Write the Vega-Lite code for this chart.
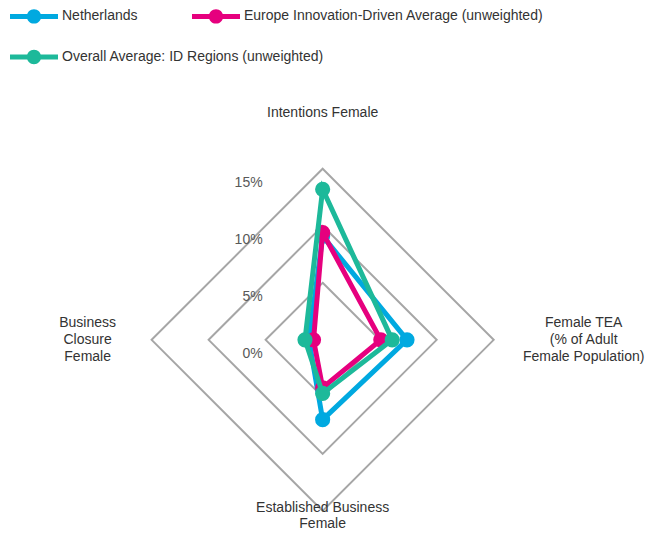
{
  "$schema": "https://vega.github.io/schema/vega-lite/v6.json",
  "width": 651,
  "height": 536,
  "padding": 0,
  "autosize": {"type": "none"},
  "config": {
    "view": {"stroke": null},
    "font": "Liberation Sans",
    "legend": {
      "title": null,
      "orient": "none",
      "direction": "horizontal",
      "legendX": 10,
      "columnPadding": 54,
      "padding": 0,
      "offset": 0,
      "symbolType": "M-1,-0.105L1,-0.105L1,0.105L-1,0.105Z M0.3,0A0.3,0.3 0 1 1 -0.3,0A0.3,0.3 0 1 1 0.3,0Z",
      "symbolSize": 2304,
      "symbolStrokeWidth": 0,
      "labelFontSize": 14,
      "labelColor": "#333333",
      "labelOffset": 4,
      "labelLimit": 0
    }
  },
  "datasets": {
    "scores": [
      {"series": "Netherlands", "indicator": "Intentions Female", "value": 9.1},
      {"series": "Netherlands", "indicator": "Female TEA", "value": 7.4},
      {"series": "Netherlands", "indicator": "Established Business Female", "value": 7.0},
      {"series": "Netherlands", "indicator": "Business Closure Female", "value": 1.2},
      {"series": "Europe Innovation-Driven Average (unweighted)", "indicator": "Intentions Female", "value": 9.4},
      {"series": "Europe Innovation-Driven Average (unweighted)", "indicator": "Female TEA", "value": 5.1},
      {"series": "Europe Innovation-Driven Average (unweighted)", "indicator": "Established Business Female", "value": 4.2},
      {"series": "Europe Innovation-Driven Average (unweighted)", "indicator": "Business Closure Female", "value": 0.8},
      {"series": "Overall Average: ID Regions (unweighted)", "indicator": "Intentions Female", "value": 13.2},
      {"series": "Overall Average: ID Regions (unweighted)", "indicator": "Female TEA", "value": 6.1},
      {"series": "Overall Average: ID Regions (unweighted)", "indicator": "Established Business Female", "value": 4.7},
      {"series": "Overall Average: ID Regions (unweighted)", "indicator": "Business Closure Female", "value": 1.55}
    ],
    "grid": [
      {"indicator": "Intentions Female", "value": 5},
      {"indicator": "Female TEA", "value": 5},
      {"indicator": "Established Business Female", "value": 5},
      {"indicator": "Business Closure Female", "value": 5},
      {"indicator": "Intentions Female", "value": 10},
      {"indicator": "Female TEA", "value": 10},
      {"indicator": "Established Business Female", "value": 10},
      {"indicator": "Business Closure Female", "value": 10},
      {"indicator": "Intentions Female", "value": 15},
      {"indicator": "Female TEA", "value": 15},
      {"indicator": "Established Business Female", "value": 15},
      {"indicator": "Business Closure Female", "value": 15}
    ],
    "ticks": [
      {"indicator": "Intentions Female", "value": 0, "label": "0%"},
      {"indicator": "Intentions Female", "value": 5, "label": "5%"},
      {"indicator": "Intentions Female", "value": 10, "label": "10%"},
      {"indicator": "Intentions Female", "value": 15, "label": "15%"}
    ],
    "labels": [
      {"indicator": "Intentions Female", "value": 15, "label": "Intentions Female"},
      {"indicator": "Female TEA", "value": 15, "label": "Female TEA\n(% of Adult\nFemale Population)"},
      {"indicator": "Established Business Female", "value": 15, "label": "Established Business\nFemale"},
      {"indicator": "Business Closure Female", "value": 15, "label": "Business\nClosure\nFemale"}
    ]
  },
  "encoding": {
    "x": {"field": "x", "type": "quantitative", "scale": {"domain": [-28.3, 28.8], "nice": false, "zero": false}, "axis": null},
    "y": {"field": "y", "type": "quantitative", "scale": {"domain": [-17.2, 29.8], "nice": false, "zero": false}, "axis": null}
  },
  "resolve": {"scale": {"color": "independent"}, "legend": {"color": "independent"}},
  "layer": [
    {
      "data": {"name": "grid"},
      "transform": [
        {"calculate": "indexof(['Intentions Female','Female TEA','Established Business Female','Business Closure Female'], datum.indicator)", "as": "k"},
        {"calculate": "datum.value * round(sin(datum.k * PI / 2))", "as": "x"},
        {"calculate": "datum.value * round(cos(datum.k * PI / 2))", "as": "y"}
      ],
      "mark": {"type": "line", "interpolate": "linear-closed", "stroke": "#A6A6A6", "strokeWidth": 2},
      "encoding": {"detail": {"field": "value"}, "order": {"field": "k", "type": "quantitative"}}
    },
    {
      "data": {"name": "ticks"},
      "transform": [
        {"calculate": "0", "as": "x"},
        {"calculate": "datum.value", "as": "y"}
      ],
      "mark": {"type": "text", "align": "right", "baseline": "middle", "dx": -60, "dy": 14, "fontSize": 14, "color": "#595959"},
      "encoding": {"text": {"field": "label"}}
    },
    {
      "data": {"name": "labels"},
      "transform": [
        {"calculate": "indexof(['Intentions Female','Female TEA','Established Business Female','Business Closure Female'], datum.indicator)", "as": "k"},
        {"calculate": "datum.value * round(sin(datum.k * PI / 2))", "as": "x"},
        {"calculate": "datum.value * round(cos(datum.k * PI / 2))", "as": "y"}
      ],
      "layer": [
        {
          "transform": [{"filter": "datum.k == 0"}],
          "mark": {"type": "text", "align": "center", "baseline": "middle", "dy": -56, "fontSize": 14, "color": "#333333", "lineBreak": "\n", "lineHeight": 17},
          "encoding": {"text": {"field": "label"}}
        },
        {
          "transform": [{"filter": "datum.k == 1"}],
          "mark": {"type": "text", "align": "center", "baseline": "middle", "dx": 90, "dy": -17, "fontSize": 14, "color": "#333333", "lineBreak": "\n", "lineHeight": 17},
          "encoding": {"text": {"field": "label"}}
        },
        {
          "transform": [{"filter": "datum.k == 2"}],
          "mark": {"type": "text", "align": "center", "baseline": "middle", "dy": -3, "fontSize": 14, "color": "#333333", "lineBreak": "\n", "lineHeight": 16},
          "encoding": {"text": {"field": "label"}}
        },
        {
          "transform": [{"filter": "datum.k == 3"}],
          "mark": {"type": "text", "align": "center", "baseline": "middle", "dx": -64, "dy": -17, "fontSize": 14, "color": "#333333", "lineBreak": "\n", "lineHeight": 17},
          "encoding": {"text": {"field": "label"}}
        }
      ]
    },
    {
      "data": {"name": "scores"},
      "transform": [
        {"filter": "datum.series != 'Overall Average: ID Regions (unweighted)'"},
        {"calculate": "indexof(['Intentions Female','Female TEA','Established Business Female','Business Closure Female'], datum.indicator)", "as": "k"},
        {"calculate": "datum.value * round(sin(datum.k * PI / 2))", "as": "x"},
        {"calculate": "datum.value * round(cos(datum.k * PI / 2))", "as": "y"}
      ],
      "encoding": {
        "color": {
          "field": "series",
          "type": "nominal",
          "scale": {
            "domain": ["Netherlands", "Europe Innovation-Driven Average (unweighted)"],
            "range": ["#00A9E0", "#E6007E"]
          },
          "legend": {
            "legendY": -8,
            "encode": {"symbols": {"update": {"fill": {"scale": "color", "field": "value"}, "opacity": {"value": 1}}}}
          }
        },
        "order": {"field": "k", "type": "quantitative"}
      },
      "layer": [
        {"transform": [{"filter": "datum.series == 'Netherlands'"}], "mark": {"type": "line", "interpolate": "linear-closed", "strokeWidth": 5}},
        {"transform": [{"filter": "datum.series == 'Netherlands'"}], "mark": {"type": "point", "filled": true, "opacity": 1, "size": 230}},
        {"transform": [{"filter": "datum.series != 'Netherlands'"}], "mark": {"type": "line", "interpolate": "linear-closed", "strokeWidth": 5}},
        {"transform": [{"filter": "datum.series != 'Netherlands'"}], "mark": {"type": "point", "filled": true, "opacity": 1, "size": 230}}
      ]
    },
    {
      "data": {"name": "scores"},
      "transform": [
        {"filter": "datum.series == 'Overall Average: ID Regions (unweighted)'"},
        {"calculate": "indexof(['Intentions Female','Female TEA','Established Business Female','Business Closure Female'], datum.indicator)", "as": "k"},
        {"calculate": "datum.value * round(sin(datum.k * PI / 2))", "as": "x"},
        {"calculate": "datum.value * round(cos(datum.k * PI / 2))", "as": "y"}
      ],
      "encoding": {
        "color": {
          "field": "series",
          "type": "nominal",
          "scale": {
            "domain": ["Overall Average: ID Regions (unweighted)"],
            "range": ["#1DB99A"]
          },
          "legend": {
            "legendY": 33,
            "encode": {"symbols": {"update": {"fill": {"scale": "color_1", "field": "value"}, "opacity": {"value": 1}}}}
          }
        },
        "order": {"field": "k", "type": "quantitative"}
      },
      "layer": [
        {"mark": {"type": "line", "interpolate": "linear-closed", "strokeWidth": 5}},
        {"mark": {"type": "point", "filled": true, "opacity": 1, "size": 230}}
      ]
    }
  ]
}
